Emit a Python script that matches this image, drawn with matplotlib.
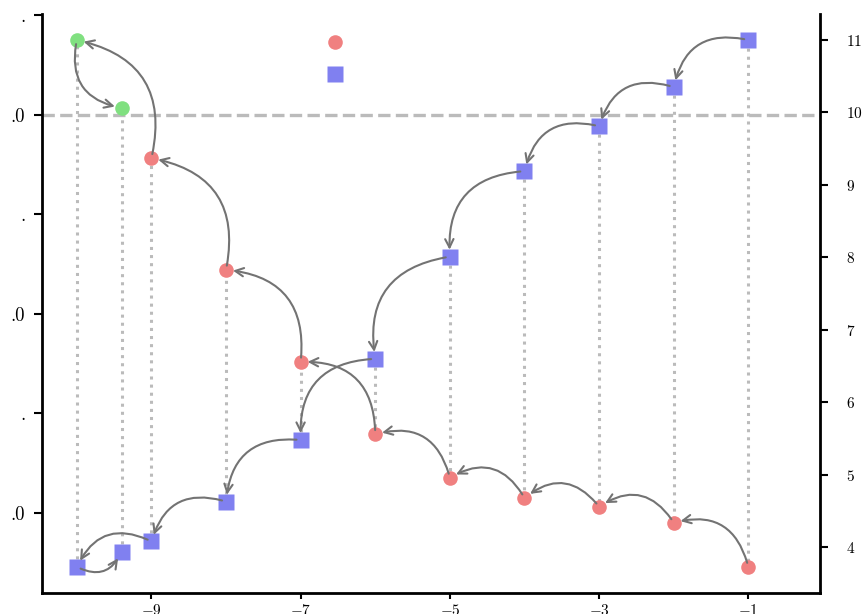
import matplotlib
matplotlib.use("Agg")
import matplotlib.pyplot as plt
from matplotlib.lines import Line2D

plt.rcParams['font.family'] = 'serif'
plt.rcParams['font.serif'] = ['cmr10', 'DejaVu Serif']
plt.rcParams['mathtext.fontset'] = 'cm'
plt.rcParams['axes.formatter.use_mathtext'] = True

# positions in the order the arrows follow
x_pos = [-1, -2, -3, -4, -5, -6, -7, -8, -9, -10, -9.4]
blue_vals = [11.0, 10.35, 9.81, 9.19, 8.01, 6.60, 5.48, 4.63, 4.08, 3.73, 3.93]
other_vals = [3.73, 4.34, 4.56, 4.68, 4.96, 5.56, 6.56, 7.83, 9.37, 11.0, 10.06]
other_kind = ['r'] * 9 + ['g'] * 2

left_ticks = [1.0, 1.5, 2.0, 2.5, 3.0, 3.5]
left_labels = ['.0', '.', '.0', '.', '.0', '.']
ref_level = 3.0

RED = '#f08080'
BLUE = '#8080f0'
GREEN = '#80e080'
LIGHT = '#bbbbbb'
ARROW = '#737373'

fig = plt.figure(figsize=(8.63, 6.14), dpi=100)
ax = fig.add_axes([42 / 863, 21 / 614, 778 / 863, 579 / 614])
ax2 = ax.twinx()

# left axis
ax.set_xlim(-10.467, -0.039)
ax.set_ylim(0.598, 3.505)
ax.set_yticks(left_ticks)
ax.set_yticklabels(left_labels, fontsize=13.5)
ax.set_xticks([-9, -7, -5, -3, -1])
ax.tick_params(axis='y', length=6, width=1.5, pad=6)
ax.tick_params(axis='x', length=4.5, width=1.5, pad=2.5, labelsize=11)
ax.axhline(ref_level, color=LIGHT, lw=2.4, ls='--', zorder=1)
for s in ['top', 'right']:
    ax.spines[s].set_visible(False)
for s in ['left', 'bottom']:
    ax.spines[s].set_linewidth(2)

# right axis with the data
ax2.set_ylim(3.369, 11.359)
ax2.set_yticks([4, 5, 6, 7, 8, 9, 10, 11])
ax2.tick_params(axis='y', length=5.5, width=1.5, pad=13, labelsize=11)
for s in ['top', 'left', 'bottom']:
    ax2.spines[s].set_visible(False)
ax2.spines['right'].set_linewidth(2)

ax2.vlines(x_pos, blue_vals, other_vals, colors=LIGHT, lw=2.2, linestyles=':', zorder=1)

colors = {'r': RED, 'g': GREEN}
for x, v, k in zip(x_pos, other_vals, other_kind):
    ax2.plot(x, v, 'o', color=colors[k], ms=10.5, mec='none', zorder=3)
ax2.plot(x_pos, blue_vals, 's', color=BLUE, ms=11, mec='none', ls='none', zorder=3)

for series in (blue_vals, other_vals):
    for i in range(len(x_pos) - 1):
        ax2.annotate('', xy=(x_pos[i + 1], series[i + 1]), xytext=(x_pos[i], series[i]),
                     arrowprops=dict(arrowstyle='->', color=ARROW, lw=1.5,
                                     connectionstyle='arc3,rad=0.5',
                                     shrinkA=3, shrinkB=5, mutation_scale=15),
                     zorder=4)

handles = [Line2D([], [], marker='o', color=RED, ms=10.5, mec='none', ls='none'),
           Line2D([], [], marker='s', color=BLUE, ms=11, mec='none', ls='none')]
ax2.legend(handles, ['', ''], loc='center', bbox_to_anchor=(0.3766, 0.9214),
           frameon=False, handletextpad=0, labelspacing=1.4, numpoints=1,
           handlelength=1.0, borderpad=0, fontsize=10)

fig.savefig('out.png', dpi=100)
